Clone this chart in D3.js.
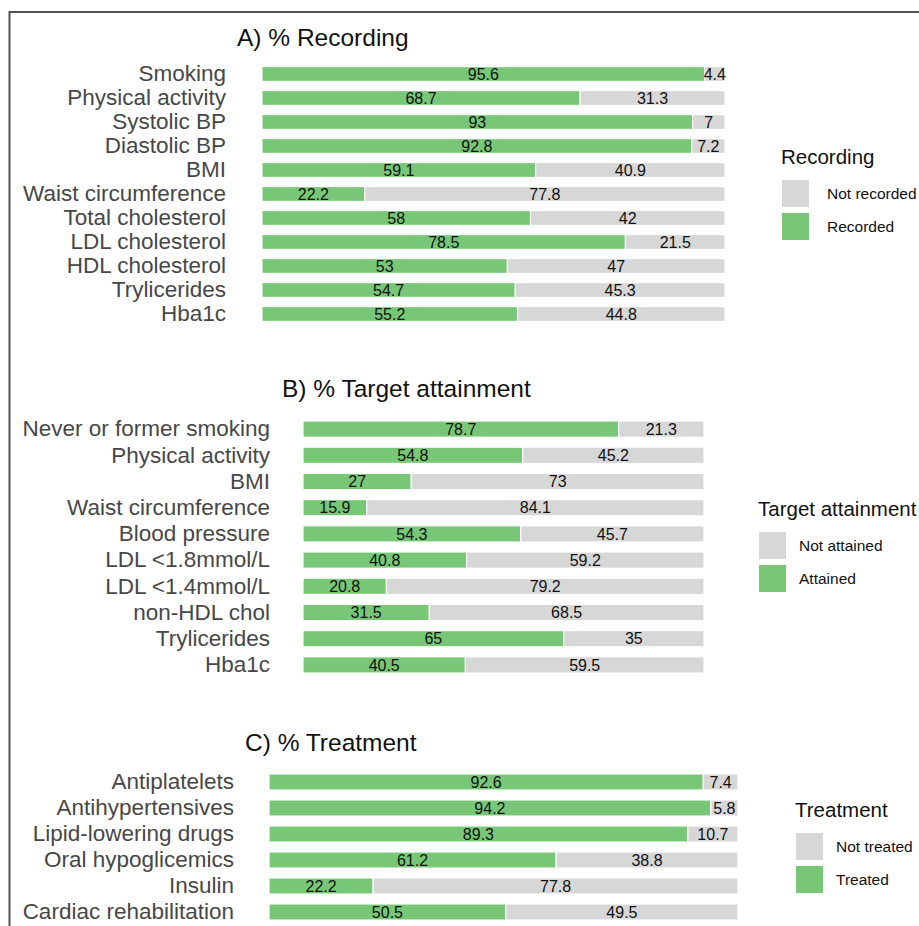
<!DOCTYPE html>
<html>
<head>
<meta charset="utf-8">
<script src="https://cdn.jsdelivr.net/npm/d3@7"></script>
<style>
  body { margin: 0; background: #fff; }
  svg { display: block; font-family: "Liberation Sans", Arial, sans-serif; }
</style>
</head>
<body>
<div id="chart"></div>
<script>
// Panel A - recording
const recCats = ["Smoking", "Physical activity", "Systolic BP", "Diastolic BP", "BMI",
  "Waist circumference", "Total cholesterol", "LDL cholesterol", "HDL cholesterol",
  "Trylicerides", "Hba1c"];
const recYes = [95.6, 68.7, 93, 92.8, 59.1, 22.2, 58, 78.5, 53, 54.7, 55.2];
const recNo = [4.4, 31.3, 7, 7.2, 40.9, 77.8, 42, 21.5, 47, 45.3, 44.8];

// Panel B - target attainment
const tgtCats = ["Never or former smoking", "Physical activity", "BMI", "Waist circumference",
  "Blood pressure", "LDL <1.8mmol/L", "LDL <1.4mmol/L", "non-HDL chol", "Trylicerides", "Hba1c"];
const tgtYes = [78.7, 54.8, 27, 15.9, 54.3, 40.8, 20.8, 31.5, 65, 40.5];
const tgtNo = [21.3, 45.2, 73, 84.1, 45.7, 59.2, 79.2, 68.5, 35, 59.5];

// Panel C - treatment
const trtCats = ["Antiplatelets", "Antihypertensives", "Lipid-lowering drugs",
  "Oral hypoglicemics", "Insulin", "Cardiac rehabilitation"];
const trtYes = [92.6, 94.2, 89.3, 61.2, 22.2, 50.5];
const trtNo = [7.4, 5.8, 10.7, 38.8, 77.8, 49.5];

const GREEN = "#77c777", GREY = "#d7d7d7";

const panels = [
  { title: "A) % Recording", cats: recCats, yes: recYes, no: recNo,
    x0: 262, x1: 725, y0: 62, y1: 326, labelRight: 226, titleX: 237, titleY: 46,
    legTitle: "Recording", legLabels: ["Not recorded", "Recorded"],
    legX: 782, legY: 164, legGap: 18 },
  { title: "B) % Target attainment", cats: tgtCats, yes: tgtYes, no: tgtNo,
    x0: 303, x1: 704, y0: 416, y1: 678, labelRight: 270, titleX: 282, titleY: 397,
    legTitle: "Target attainment", legLabels: ["Not attained", "Attained"],
    legX: 759, legY: 516, legGap: 13 },
  { title: "C) % Treatment", cats: trtCats, yes: trtYes, no: trtNo,
    x0: 269, x1: 738, y0: 769, y1: 925, labelRight: 234, titleX: 245, titleY: 751,
    legTitle: "Treatment", legLabels: ["Not treated", "Treated"],
    legX: 796, legY: 817, legGap: 13 }
];

const svg = d3.select("#chart").append("svg")
  .attr("width", 919).attr("height", 926);

// frame
svg.append("path")
  .attr("d", "M9.5,926V12H919")
  .attr("fill", "none").attr("stroke", "#505050").attr("stroke-width", 2);

panels.forEach(p => {
  const x = d3.scaleLinear().domain([0, 100]).range([p.x0, p.x1]);
  const y = d3.scaleBand().domain(p.cats).range([p.y0, p.y1])
    .paddingInner(0.38).paddingOuter(0.19);
  const g = svg.append("g");

  g.append("text")
    .attr("x", p.titleX).attr("y", p.titleY)
    .attr("font-size", 24.5).attr("fill", "#111")
    .text(p.title);

  const rows = p.cats.map((c, i) => ({ cat: c, yes: p.yes[i], no: p.no[i] }));

  const row = g.selectAll(".row").data(rows).join("g");

  row.append("rect")
    .attr("x", x(0)).attr("y", d => y(d.cat))
    .attr("width", d => x(d.yes) - x(0)).attr("height", y.bandwidth())
    .attr("fill", GREEN).attr("stroke", "#fff").attr("stroke-width", 1.2);

  row.append("rect")
    .attr("x", d => x(d.yes)).attr("y", d => y(d.cat))
    .attr("width", d => x(d.yes + d.no) - x(d.yes)).attr("height", y.bandwidth())
    .attr("fill", GREY).attr("stroke", "#fff").attr("stroke-width", 1.2);

  row.append("text")
    .attr("x", d => x(d.yes / 2)).attr("y", d => y(d.cat) + y.bandwidth() / 2)
    .attr("dy", "0.36em").attr("text-anchor", "middle")
    .attr("font-size", 16).attr("fill", "#111")
    .text(d => d.yes);

  row.append("text")
    .attr("x", d => x(d.yes + d.no / 2)).attr("y", d => y(d.cat) + y.bandwidth() / 2)
    .attr("dy", "0.36em").attr("text-anchor", "middle")
    .attr("font-size", 16).attr("fill", "#111")
    .text(d => d.no);

  // category axis
  const axis = g.append("g")
    .attr("transform", `translate(${p.labelRight},0)`)
    .call(d3.axisLeft(y).tickSize(0).tickPadding(0));
  axis.select(".domain").remove();
  axis.selectAll("text")
    .attr("font-size", 22.5).attr("fill", "#474747")
    .attr("font-family", "Liberation Sans, Arial, sans-serif");

  // legend
  const leg = g.append("g").attr("transform", `translate(${p.legX},${p.legY})`);
  leg.append("text").attr("x", -1).attr("y", 0)
    .attr("font-size", 20.5).attr("fill", "#111").text(p.legTitle);
  [GREY, GREEN].forEach((c, i) => {
    leg.append("rect").attr("x", 0).attr("y", 16 + i * 33)
      .attr("width", 27).attr("height", 27).attr("fill", c);
    leg.append("text").attr("x", 27 + p.legGap).attr("y", 29.5 + i * 33)
      .attr("dy", "0.35em").attr("font-size", 15.5).attr("fill", "#111")
      .text(p.legLabels[i]);
  });
});
</script>
</body>
</html>
